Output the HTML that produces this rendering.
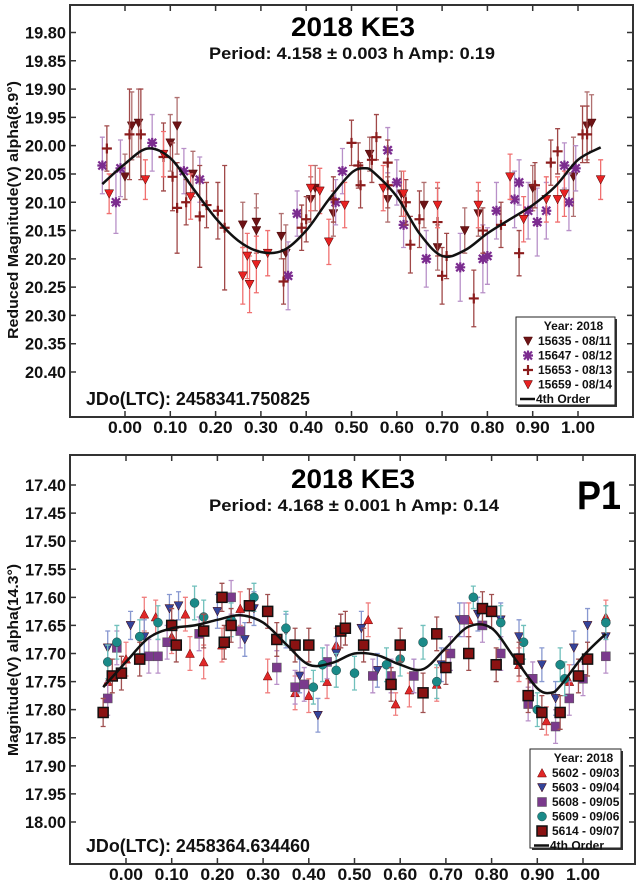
<!DOCTYPE html>
<html><head><meta charset="utf-8"><style>
body{margin:0;background:#fff;width:640px;height:888px;overflow:hidden}
svg{display:block;font-family:"Liberation Sans",Arial,sans-serif;font-weight:bold}
</style></head><body>
<svg id="chart" width="640" height="888" viewBox="0 0 640 888" xmlns="http://www.w3.org/2000/svg">
<g id="p1"></g>
<g id="p2"></g>
</svg>
<script>
// ---------- top panel data ----------
const topXTicks=["0.00","0.10","0.20","0.30","0.40","0.50","0.60","0.70","0.80","0.90","1.00"];
const topYTicks=["19.80","19.85","19.90","19.95","20.00","20.05","20.10","20.15","20.20","20.25","20.30","20.35","20.40"];
const topS15635=[[0.00,20.055,.04],[0.015,19.965,.06],[0.03,19.96,.06],[0.10,19.995,.05],[0.115,19.965,.05],[0.15,20.05,.04],[0.26,20.14,.04],[0.29,20.135,.05],[0.29,20.15,.04],[0.345,20.16,.04],[0.355,20.19,.05],[0.41,20.095,.04],[0.42,20.075,.04],[0.46,20.12,.04],[0.54,20.015,.03],[0.58,20.095,.04],[0.61,20.085,.04],[0.66,20.105,.04],[0.69,20.18,.04],[0.75,20.15,.04],[0.78,20.12,.04],[0.90,20.075,.04],[0.99,20.055,.07],[1.02,19.965,.06],[1.03,19.96,.05]];
const topS15647=[[-0.05,20.035,.05],[-0.02,20.10,.055],[-0.01,20.04,.05],[0.06,19.995,.05],[0.13,20.045,.04],[0.165,20.06,.04],[0.36,20.23,.06],[0.38,20.12,.04],[0.465,20.10,.04],[0.48,20.045,.04],[0.58,20.008,.04],[0.60,20.065,.04],[0.615,20.14,.04],[0.665,20.20,.05],[0.74,20.215,.06],[0.79,20.20,.06],[0.80,20.195,.05],[0.82,20.115,.05],[0.86,20.095,.05],[0.87,20.065,.04],[0.89,20.115,.05],[0.91,20.135,.06],[0.93,20.115,.05],[0.97,20.035,.04],[0.98,20.10,.05],[0.995,20.04,.04]];
const topS15653=[[-0.04,20.005,.04],[0.01,19.98,.08],[0.035,19.98,.08],[0.085,20.02,.06],[0.105,20.055,.06],[0.115,20.11,.08],[0.135,20.10,.04],[0.165,20.125,.09],[0.18,20.105,.04],[0.205,20.115,.05],[0.22,20.145,.11],[0.35,20.24,.04],[0.39,20.145,.04],[0.40,20.13,.04],[0.46,20.095,.04],[0.50,19.995,.04],[0.515,20.035,.04],[0.52,20.07,.04],[0.545,20.025,.04],[0.555,19.985,.04],[0.58,20.03,.04],[0.58,20.07,.04],[0.62,20.10,.04],[0.63,20.175,.05],[0.65,20.13,.05],[0.69,20.135,.06],[0.70,20.23,.05],[0.71,20.195,.04],[0.77,20.27,.05],[0.79,20.15,.04],[0.83,20.14,.04],[0.87,20.19,.04],[0.905,20.07,.04],[0.94,20.03,.04],[0.955,20.01,.04],[1.01,19.98,.05],[1.02,19.98,.05]];
const topS15659=[[-0.035,20.085,.035],[0.045,20.06,.035],[0.085,20.015,.04],[0.145,20.09,.04],[0.26,20.23,.05],[0.27,20.195,.04],[0.275,20.245,.05],[0.29,20.21,.05],[0.315,20.19,.04],[0.41,20.075,.04],[0.43,20.08,.04],[0.45,20.17,.04],[0.485,20.105,.04],[0.57,20.075,.04],[0.615,20.085,.04],[0.69,20.105,.04],[0.78,20.105,.04],[0.85,20.055,.04],[0.88,20.13,.04],[0.93,20.095,.04],[0.955,20.095,.04],[0.97,20.085,.04],[1.05,20.06,.035]];
const topFitX=[-0.05,0,0.05,0.1,0.15,0.2,0.25,0.3,0.35,0.4,0.45,0.5,0.53,0.55,0.6,0.65,0.7,0.75,0.8,0.85,0.9,0.95,1.0,1.05];
const topFitY=[20.068,20.032,20.005,20.022,20.075,20.128,20.168,20.188,20.185,20.15,20.095,20.048,20.04,20.048,20.09,20.155,20.195,20.185,20.155,20.13,20.105,20.072,20.025,20.003];
// ---------- bottom panel data ----------
const botXTicks=["0.00","0.10","0.20","0.30","0.40","0.50","0.60","0.70","0.80","0.90","1.00"];
const botYTicks=["17.40","17.45","17.50","17.55","17.60","17.65","17.70","17.75","17.80","17.85","17.90","17.95","18.00"];
const botS5602=[[-0.04,17.75,.03],[0.0,17.71,.03],[0.04,17.63,.03],[0.065,17.635,.03],[0.1,17.67,.03],[0.13,17.63,.03],[0.14,17.70,.03],[0.17,17.715,.03],[0.21,17.685,.03],[0.25,17.62,.03],[0.31,17.74,.03],[0.37,17.77,.03],[0.40,17.775,.03],[0.44,17.75,.03],[0.46,17.685,.03],[0.53,17.64,.03],[0.59,17.79,.02],[0.62,17.765,.03],[0.68,17.755,.03],[0.75,17.64,.03],[0.86,17.72,.03],[0.92,17.82,.025],[0.97,17.75,.03],[1.05,17.635,.03]];
const botS5603=[[-0.04,17.69,.03],[0.01,17.65,.025],[0.04,17.67,.03],[0.095,17.62,.025],[0.115,17.615,.025],[0.2,17.625,.03],[0.26,17.675,.03],[0.28,17.62,.03],[0.35,17.66,.03],[0.38,17.74,.03],[0.42,17.81,.03],[0.46,17.70,.03],[0.515,17.655,.03],[0.55,17.73,.03],[0.63,17.74,.03],[0.69,17.72,.03],[0.73,17.64,.03],[0.77,17.63,.03],[0.82,17.64,.03],[0.86,17.67,.03],[0.91,17.72,.03],[0.94,17.78,.03],[0.98,17.69,.03],[1.01,17.65,.03],[1.05,17.67,.03]];
const botS5608=[[-0.04,17.78,.03],[-0.02,17.69,.03],[0.05,17.705,.03],[0.07,17.705,.03],[0.09,17.68,.03],[0.16,17.665,.03],[0.23,17.60,.03],[0.25,17.66,.03],[0.33,17.725,.03],[0.37,17.76,.03],[0.39,17.755,.03],[0.44,17.715,.03],[0.47,17.66,.03],[0.54,17.74,.03],[0.58,17.74,.03],[0.63,17.74,.03],[0.71,17.70,.03],[0.74,17.64,.03],[0.78,17.65,.03],[0.82,17.70,.03],[0.88,17.79,.03],[0.89,17.745,.03],[0.94,17.83,.03],[0.97,17.78,.03],[1.0,17.745,.03],[1.05,17.705,.03]];
const botS5609=[[-0.04,17.715,.03],[-0.02,17.68,.03],[0.03,17.67,.03],[0.07,17.645,.03],[0.15,17.61,.03],[0.17,17.635,.03],[0.23,17.64,.03],[0.28,17.60,.025],[0.35,17.655,.03],[0.41,17.76,.03],[0.43,17.72,.03],[0.46,17.73,.03],[0.5,17.735,.03],[0.57,17.72,.03],[0.6,17.71,.03],[0.65,17.68,.03],[0.68,17.75,.03],[0.76,17.60,.02],[0.82,17.645,.03],[0.87,17.68,.03],[0.90,17.80,.03],[0.95,17.72,.03],[0.96,17.745,.03],[1.05,17.645,.03]];
const botS5614=[[-0.05,17.805,.025],[-0.03,17.74,.03],[-0.01,17.735,.03],[0.03,17.71,.03],[0.1,17.65,.03],[0.11,17.685,.03],[0.17,17.66,.03],[0.21,17.60,.025],[0.215,17.68,.03],[0.23,17.65,.03],[0.27,17.615,.03],[0.31,17.625,.03],[0.33,17.675,.03],[0.37,17.685,.03],[0.40,17.685,.03],[0.47,17.66,.03],[0.48,17.655,.03],[0.52,17.685,.03],[0.58,17.755,.03],[0.6,17.685,.03],[0.65,17.77,.035],[0.68,17.665,.03],[0.7,17.725,.03],[0.75,17.70,.03],[0.78,17.62,.03],[0.80,17.625,.03],[0.81,17.72,.03],[0.86,17.71,.03],[0.88,17.775,.03],[0.91,17.805,.03],[0.95,17.805,.03],[0.99,17.74,.03],[1.01,17.71,.03]];
const botFitX=[-0.05,0,0.05,0.1,0.15,0.2,0.25,0.3,0.35,0.4,0.45,0.5,0.55,0.6,0.65,0.7,0.75,0.8,0.85,0.9,0.93,0.95,1.0,1.05];
const botFitY=[17.76,17.715,17.672,17.655,17.65,17.64,17.632,17.645,17.683,17.72,17.717,17.70,17.703,17.72,17.728,17.69,17.652,17.655,17.708,17.762,17.77,17.758,17.705,17.665];

const NS="http://www.w3.org/2000/svg";
function mk(parent,tag,attrs,text){const e=document.createElementNS(NS,tag);for(const k in attrs)e.setAttribute(k,attrs[k]);if(text!==undefined)e.textContent=text;parent.appendChild(e);return e;}

function marker(g,type,cx,cy,color){
  let e;
  if(type==="down"){e=mk(g,"polygon",{points:`${cx-4.5},${cy-4} ${cx+4.5},${cy-4} ${cx},${cy+4.5}`,fill:color,stroke:"#400",'stroke-width':0.5});}
  else if(type==="up"){e=mk(g,"polygon",{points:`${cx-4.5},${cy+4} ${cx+4.5},${cy+4} ${cx},${cy-4.5}`,fill:color,stroke:"#600",'stroke-width':0.5});}
  else if(type==="plus"){e=mk(g,"path",{d:`M${cx-5},${cy}H${cx+5}M${cx},${cy-5}V${cy+5}`,stroke:color,'stroke-width':2.2,fill:"none"});}
  else if(type==="star"){e=mk(g,"path",{d:`M${cx-5},${cy}H${cx+5}M${cx},${cy-5}V${cy+5}M${cx-4},${cy-4}L${cx+4},${cy+4}M${cx-4},${cy+4}L${cx+4},${cy-4}`,stroke:color,'stroke-width':2.2,fill:"none"});}
  else if(type==="square"){e=mk(g,"rect",{x:cx-4.5,y:cy-4.5,width:9,height:9,fill:color,stroke:"#555",'stroke-width':0.5});}
  else if(type==="bsquare"){e=mk(g,"rect",{x:cx-5,y:cy-5,width:10,height:10,fill:color,stroke:"#111",'stroke-width':1.5});}
  else if(type==="circle"){e=mk(g,"circle",{cx:cx,cy:cy,r:4.5,fill:color,stroke:"#244",'stroke-width':0.5});}
  return e;
}

function smoothPath(px,py){
  let d=`M${px[0].toFixed(1)},${py[0].toFixed(1)}`;
  for(let i=0;i<px.length-1;i++){
    const i0=Math.max(0,i-1),i2=i+1,i3=Math.min(px.length-1,i+2);
    const c1x=px[i]+(px[i2]-px[i0])/6,c1y=py[i]+(py[i2]-py[i0])/6;
    const c2x=px[i2]-(px[i3]-px[i])/6,c2y=py[i2]-(py[i3]-py[i])/6;
    d+=`C${c1x.toFixed(1)},${c1y.toFixed(1)} ${c2x.toFixed(1)},${c2y.toFixed(1)} ${px[i2].toFixed(1)},${py[i2].toFixed(1)}`;
  }
  return d;
}

function panel(root,cfg){
  const {L,R,T,B,x0,x1,xp0,xp1,y0,y1,yp0,yp1}=cfg;
  const sx=v=>xp0+(v-x0)/(x1-x0)*(xp1-xp0);
  const sy=v=>yp0+(v-y0)/(y1-y0)*(yp1-yp0);
  const frame=mk(root,"rect",{x:L,y:T,width:R-L,height:B-T,fill:"none",stroke:"#333",'stroke-width':2});
  
  
  const yg=mk(root,"g",{});
  
  
  cfg.yTicks.forEach(t=>{const y=sy(parseFloat(t));
    mk(yg,"path",{d:`M${L},${y}h6M${R},${y}h-6`,stroke:"#333",'stroke-width':1.5});
    const tx=mk(yg,"text",{x:L-4,y:y+6,'text-anchor':"end",'font-size':17,fill:"#111",textLength:41,lengthAdjust:"spacingAndGlyphs"},t);
    
    
  });
  const xg=mk(root,"g",{});
  
  
  cfg.xTicks.forEach(t=>{const x=sx(parseFloat(t));
    mk(xg,"path",{d:`M${x},${T}v6M${x},${B}v-6`,stroke:"#333",'stroke-width':1.5});
    const tx=mk(xg,"text",{x:x,y:B+16,'text-anchor':"middle",'font-size':17,fill:"#111",textLength:34,lengthAdjust:"spacingAndGlyphs"},t);
    
    
  });
  const yt=mk(root,"text",{transform:`translate(${cfg.ytX},${cfg.ytY}) rotate(-90)`,'text-anchor':"middle",'font-size':15,fill:"#111",textLength:cfg.ytLen,lengthAdjust:"spacingAndGlyphs"},cfg.yTitle);
  
  
  const tt=mk(root,"text",{x:353,y:T+cfg.titleDy,'text-anchor':"middle",'font-size':27,fill:"#000",textLength:124,lengthAdjust:"spacingAndGlyphs"},"2018 KE3");
  
  
  const st=mk(root,"text",{x:cfg.stX,y:T+cfg.titleDy+23,'text-anchor':"middle",'font-size':17,fill:"#111",'xml:space':"preserve",textLength:cfg.stLen,lengthAdjust:"spacingAndGlyphs"},cfg.subtitle);
  
  
  const jd=mk(root,"text",{x:86,y:B-12,'font-size':18,fill:"#111",textLength:224,lengthAdjust:"spacingAndGlyphs"},cfg.jd);
  
  
  cfg.series.forEach(s=>{
    const g=mk(root,"g",{});
    
    
    s.data.forEach(d=>{const x=sx(d[0]),y=sy(d[1]),e=(sy(d[1]+d[2])-y);
      const eb=mk(g,"path",{d:`M${x},${y-e}V${y+e}M${x-2.5},${y-e}h5M${x-2.5},${y+e}h5`,stroke:s.err,'stroke-width':1.3,fill:"none"});
      
      
    });
    s.data.forEach(d=>{const m=marker(g,s.type,sx(d[0]),sy(d[1]),s.color);
      
      
    });
  });
  const fit=mk(root,"path",{d:smoothPath(cfg.fitX.map(sx),cfg.fitY.map(sy)),stroke:"#111",'stroke-width':2.5,fill:"none",'stroke-linejoin':"round"});
  
  
  const lg=mk(root,"g",{});
  
  
  const Lx=cfg.leg[0],Ly=cfg.leg[1],Lw=cfg.leg[2],Lh=cfg.leg[3];
  mk(lg,"rect",{x:Lx+2,y:Ly+2,width:Lw,height:Lh,fill:"#333"});
  mk(lg,"rect",{x:Lx,y:Ly,width:Lw,height:Lh,fill:"#fff",stroke:"#222",'stroke-width':1});
  mk(lg,"text",{x:Lx+Lw/2+8,y:Ly+13,'text-anchor':"middle",'font-size':12,fill:"#111"},"Year: 2018");
  cfg.series.forEach((s,i)=>{const y=Ly+28+i*14.5;
    marker(lg,s.type,Lx+12,y-4,s.color);
    const t=mk(lg,"text",{x:Lx+22,y:y,'font-size':12,fill:"#111"},s.label);
    
    
  });
  const yl=Ly+28+cfg.series.length*14.5;
  mk(lg,"path",{d:`M${Lx+4},${yl-4}h15`,stroke:"#111",'stroke-width':2.5});
  mk(lg,"text",{x:Lx+20,y:yl,'font-size':12,fill:"#111"},"4th Order");
}

panel(document.getElementById("p1"),{L:70,R:633,T:5,B:417,x0:0,x1:1,xp0:125,xp1:578,y0:19.80,y1:20.40,yp0:32.5,yp1:372,
  xTicks:topXTicks,yTicks:topYTicks,ytX:18,ytY:210,ytLen:258,yTitle:"Reduced Magnitude(V) alpha(8.9°)",titleDy:31,
  stX:352,stLen:286,
  subtitle:"Period: 4.158 ± 0.003 h  Amp: 0.19",jd:"JDo(LTC): 2458341.750825",
  fitX:topFitX,fitY:topFitY,leg:[516,317,99,88],
  series:[
   {name:"15635",label:"15635 - 08/11",type:"down",color:"#6e1416",err:"#b07070",data:topS15635},
   {name:"15647",label:"15647 - 08/12",type:"star",color:"#7b2c8f",err:"#b890c8",data:topS15647},
   {name:"15653",label:"15653 - 08/13",type:"plus",color:"#8b1c1c",err:"#a04848",data:topS15653},
   {name:"15659",label:"15659 - 08/14",type:"down",color:"#e82222",err:"#f07070",data:topS15659}]});
panel(document.getElementById("p2"),{L:70,R:635,T:455,B:864,x0:0,x1:1,xp0:126,xp1:583,y0:17.40,y1:18.00,yp0:485,yp1:822,
  xTicks:botXTicks,yTicks:botYTicks,ytX:18,ytY:660,ytLen:192,yTitle:"Magnitude(V) alpha(14.3°)",titleDy:33,
  stX:354,stLen:290,
  subtitle:"Period: 4.168 ± 0.001 h   Amp: 0.14",jd:"JDo(LTC): 2458364.634460",
  fitX:botFitX,fitY:botFitY,leg:[530,749,91,99],
  series:[
   {name:"5602",label:"5602 - 09/03",type:"up",color:"#e02828",err:"#f08080",data:botS5602},
   {name:"5603",label:"5603 - 09/04",type:"down",color:"#34449a",err:"#8898d0",data:botS5603},
   {name:"5608",label:"5608 - 09/05",type:"square",color:"#7a3a8c",err:"#b890c8",data:botS5608},
   {name:"5609",label:"5609 - 09/06",type:"circle",color:"#1a8a88",err:"#70c0bc",data:botS5609},
   {name:"5614",label:"5614 - 09/07",type:"bsquare",color:"#8a1212",err:"#a05050",data:botS5614}]});
const p1=mk(document.getElementById("p2"),"text",{x:599,y:509,'text-anchor':"middle",'font-size':40,fill:"#000",textLength:44,lengthAdjust:"spacingAndGlyphs"},"P1");


</script>
</body></html>
